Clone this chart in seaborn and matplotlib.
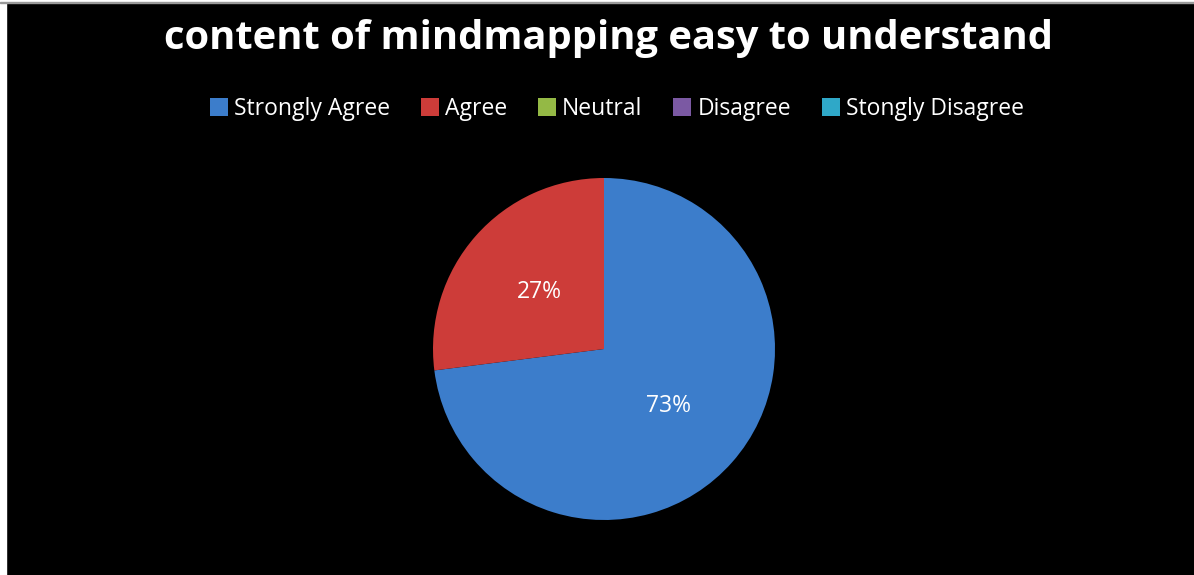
import matplotlib

matplotlib.use("Agg")

import matplotlib.pyplot as plt
from matplotlib.patches import Patch, Rectangle
import seaborn as sns

# data
categories = ["Strongly Agree", "Agree", "Neutral", "Disagree", "Stongly Disagree"]
shares = [73, 27, 0, 0, 0]
colors = ["#3c7dcb", "#cd3c39", "#94b945", "#7b59a3", "#2fa8c8"]
title = "content of mindmapping easy to understand"

sns.set_theme(style="white")
plt.rcParams["font.family"] = ["Open Sans", "DejaVu Sans"]

W, H = 1194, 575
fig = plt.figure(figsize=(W / 100, H / 100), dpi=100, facecolor="black")

# thin light border on the left / top like the exported screenshot
fig.patches.append(Rectangle((0, 0), 6 / W, 1, transform=fig.transFigure, color="white", zorder=0))
fig.patches.append(Rectangle((0, 1 - 2 / H), 1, 2 / H, transform=fig.transFigure, color="white", zorder=0))
fig.patches.append(Rectangle((0, 1 - 3 / H), 1, 1 / H, transform=fig.transFigure, color="#9a9a9a", zorder=0))

cx, cy, r = 604, 349, 171
ax = fig.add_axes([(cx - r) / W, (H - cy - r) / H, 2 * r / W, 2 * r / H])
ax.set_facecolor("black")


def pct_label(value):
    return f"{value:.0f}%" if value > 0.5 else ""


wedges, texts, autotexts = ax.pie(
    shares,
    colors=colors,
    startangle=90,
    counterclock=False,
    autopct=pct_label,
    pctdistance=0.5,
    wedgeprops={"linewidth": 0},
    textprops={"color": "white", "fontsize": 16.5},
)
ax.set_xlim(-1, 1)
ax.set_ylim(-1, 1)
ax.set_aspect("equal")

fig.text(608 / W, 1 - 39 / H, title, ha="center", va="center", color="white",
         fontsize=28.7, fontweight="bold")

handles = [Patch(facecolor=c, edgecolor="none") for c in colors]
fig.legend(
    handles,
    categories,
    loc="center",
    bbox_to_anchor=(617 / W, 1 - 109 / H),
    ncol=5,
    frameon=False,
    fontsize=16.5,
    labelcolor="white",
    handlelength=0.78,
    handleheight=0.78,
    handletextpad=0.26,
    columnspacing=1.35,
)

fig.savefig("out.png", dpi=100, facecolor=fig.get_facecolor())
